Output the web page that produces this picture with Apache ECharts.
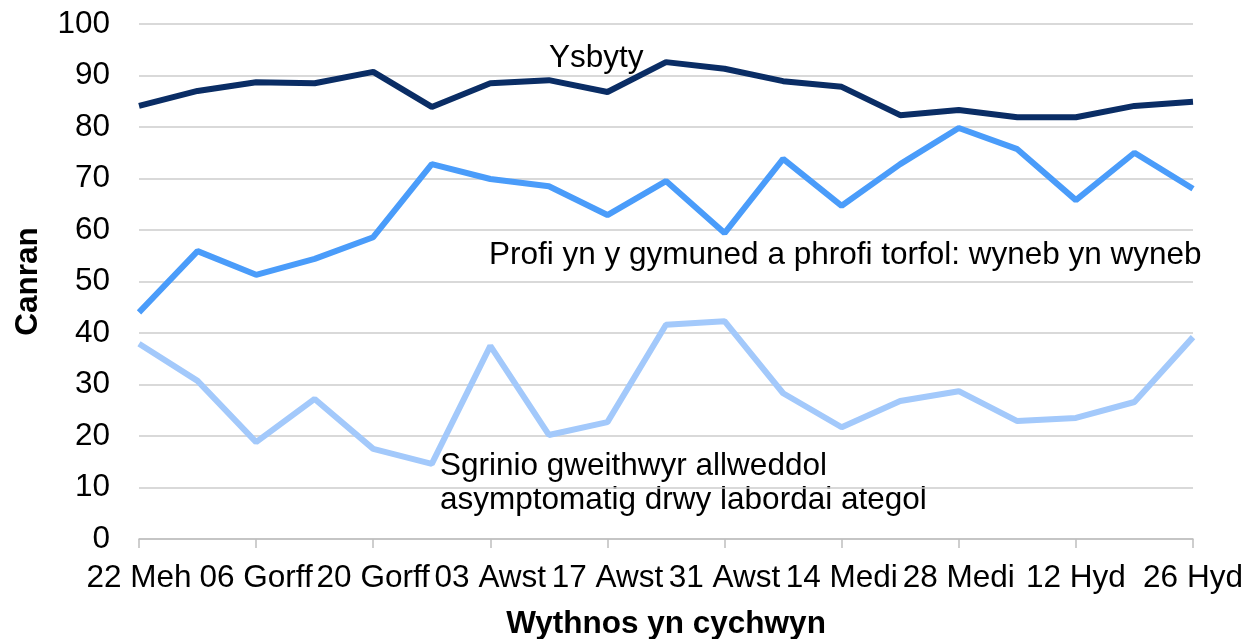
<!DOCTYPE html>
<html>
<head>
<meta charset="utf-8">
<script src="https://cdn.jsdelivr.net/npm/echarts@6/dist/echarts.min.js"></script>
<style>
html, body { margin: 0; padding: 0; background: #fff; }
#chart { width: 1257px; height: 639px; }
</style>
</head>
<body>
<div id="chart"></div>
<script>
// weeks starting (Welsh month abbreviations)
var weeks = ['22 Meh', '29 Meh', '06 Gorff', '13 Gorff', '20 Gorff', '27 Gorff', '03 Awst', '10 Awst',
    '17 Awst', '24 Awst', '31 Awst', '07 Medi', '14 Medi', '21 Medi', '28 Medi', '05 Hyd',
    '12 Hyd', '19 Hyd', '26 Hyd'];

var ysbyty = [84.1, 87.0, 88.7, 88.5, 90.7, 83.9, 88.5, 89.1, 86.8, 92.6, 91.3, 88.9, 87.8, 82.3, 83.3, 81.9, 81.9, 84.1, 84.9];
var profi = [44.0, 55.9, 51.3, 54.4, 58.6, 72.8, 69.9, 68.5, 62.9, 69.5, 59.4, 73.8, 64.7, 72.8, 79.8, 75.7, 65.8, 75.0, 68.0];
var sgrinio = [37.9, 30.7, 18.8, 27.2, 17.5, 14.6, 37.5, 20.2, 22.7, 41.6, 42.3, 28.3, 21.7, 26.8, 28.7, 22.9, 23.5, 26.6, 39.2];

var FONT = '"Liberation Sans", Arial, sans-serif';
var FS = 31.5;

var chart = echarts.init(document.getElementById('chart'));
chart.setOption({
    animation: false,
    grid: {
        left: 139,
        right: 64,
        top: 24,
        bottom: 100,
        outerBoundsMode: 'none'
    },
    xAxis: {
        type: 'category',
        boundaryGap: false,
        data: weeks,
        name: 'Wythnos yn cychwyn',
        nameLocation: 'middle',
        nameGap: 69,
        nameTextStyle: { fontFamily: FONT, fontSize: FS, fontWeight: 'bold', color: '#000' },
        axisLine: { lineStyle: { color: '#bfbfbf', width: 1.5 } },
        axisTick: { interval: 1, length: 9, lineStyle: { color: '#bfbfbf', width: 1.5 } },
        axisLabel: { interval: 1, margin: 23, fontFamily: FONT, fontSize: FS, color: '#000' },
        splitLine: { show: false }
    },
    yAxis: {
        type: 'value',
        min: 0,
        max: 100,
        interval: 10,
        name: 'Canran',
        nameLocation: 'middle',
        nameGap: 95,
        nameTextStyle: { fontFamily: FONT, fontSize: FS, fontWeight: 'bold', color: '#000' },
        axisLine: { show: false },
        axisTick: { show: false },
        axisLabel: { margin: 29, fontFamily: FONT, fontSize: FS, color: '#000' },
        splitLine: { lineStyle: { color: '#cccccc', width: 1.5 } }
    },
    series: [
        {
            name: 'Sgrinio',
            type: 'line',
            data: sgrinio,
            symbol: 'none',
            lineStyle: { color: '#a3c9fb', width: 6 }
        },
        {
            name: 'Profi',
            type: 'line',
            data: profi,
            symbol: 'none',
            lineStyle: { color: '#4a9cfa', width: 6 }
        },
        {
            name: 'Ysbyty',
            type: 'line',
            data: ysbyty,
            symbol: 'none',
            lineStyle: { color: '#0a2d65', width: 6 }
        }
    ],
    graphic: [
        {
            type: 'text', left: 549, top: 42,
            style: { text: 'Ysbyty', fontFamily: FONT, fontSize: FS, fill: '#000' }
        },
        {
            type: 'text', left: 489, top: 239,
            style: { text: 'Profi yn y gymuned a phrofi torfol: wyneb yn wyneb', fontFamily: FONT, fontSize: FS, fill: '#000' }
        },
        {
            type: 'text', left: 440, top: 449,
            style: { text: 'Sgrinio gweithwyr allweddol\nasymptomatig drwy labordai ategol', fontFamily: FONT, fontSize: FS, lineHeight: 34, fill: '#000' }
        }
    ]
});
</script>
</body>
</html>
